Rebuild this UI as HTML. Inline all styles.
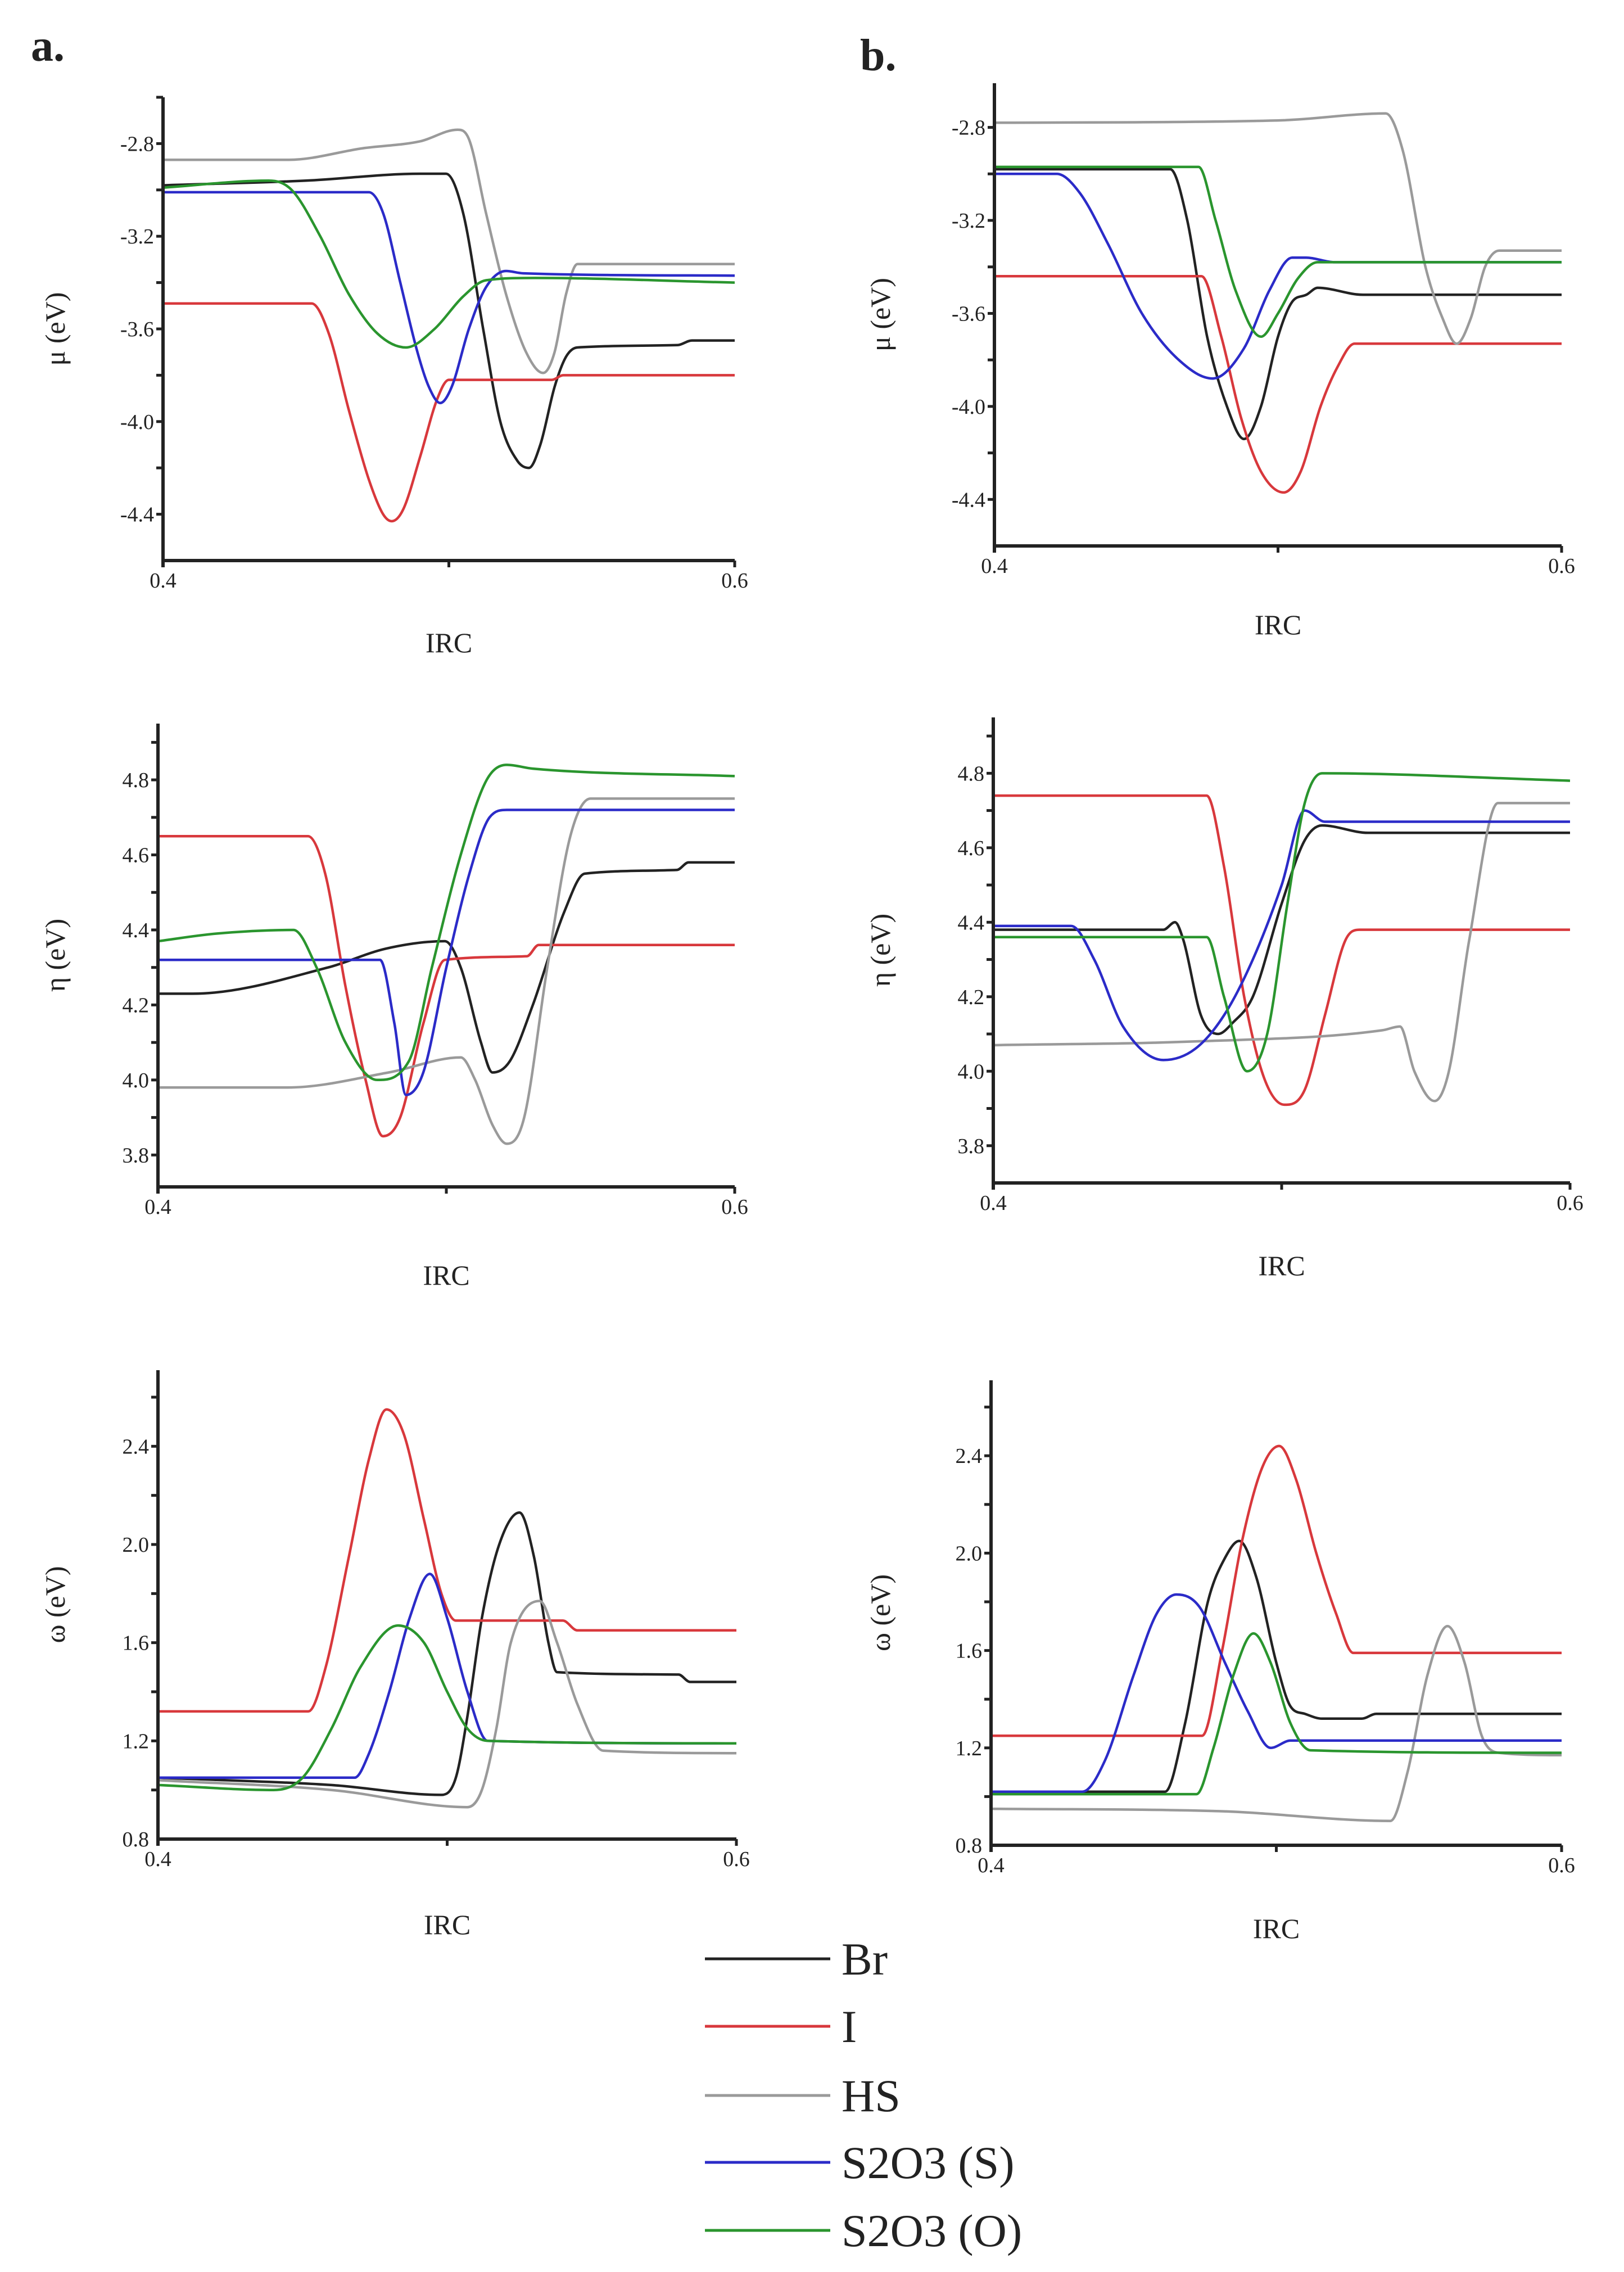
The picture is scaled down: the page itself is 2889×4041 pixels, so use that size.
<!DOCTYPE html>
<html><head><meta charset="utf-8"><style>
html,body{margin:0;padding:0;background:#fff;}
svg{display:block;}
text{font-family:"Liberation Serif",serif;fill:#222;}
</style></head><body>
<svg id="fig" width="2889" height="4041" viewBox="0 0 2889 4041" xmlns="http://www.w3.org/2000/svg">
<text x="55" y="108" font-size="80" font-weight="bold">a.</text>
<text x="1530" y="125" font-size="80" font-weight="bold">b.</text>
<g id="legend"></g>
</svg>
<script>
const seriesNames = ["Br","I","HS","S2O3 (S)","S2O3 (O)"];
const seriesColors = ["#222222","#d8383c","#9a9a9a","#2b2bc8","#2a952e"];

// Panel a, mu
const aMuX = [
 [0.4,0.45,0.49,0.499,0.505,0.512,0.518,0.524,0.528,0.532,0.537,0.541,0.545,0.58,0.585,0.6],
 [0.4,0.452,0.458,0.465,0.472,0.477,0.480,0.484,0.490,0.496,0.500,0.536,0.540,0.6],
 [0.4,0.444,0.47,0.49,0.503,0.507,0.513,0.52,0.527,0.533,0.537,0.541,0.545,0.6],
 [0.4,0.472,0.477,0.483,0.489,0.493,0.497,0.501,0.507,0.513,0.52,0.526,0.6],
 [0.4,0.437,0.445,0.455,0.465,0.475,0.485,0.495,0.505,0.513,0.53,0.6]];
const aMuY = [
 [-2.98,-2.96,-2.93,-2.93,-3.1,-3.6,-4.0,-4.17,-4.2,-4.1,-3.85,-3.72,-3.68,-3.67,-3.65,-3.65],
 [-3.49,-3.49,-3.62,-3.95,-4.25,-4.4,-4.43,-4.38,-4.15,-3.9,-3.82,-3.82,-3.80,-3.80],
 [-2.87,-2.87,-2.82,-2.79,-2.74,-2.78,-3.1,-3.45,-3.7,-3.79,-3.7,-3.45,-3.32,-3.32],
 [-3.01,-3.01,-3.1,-3.4,-3.7,-3.85,-3.92,-3.85,-3.6,-3.42,-3.35,-3.36,-3.37],
 [-2.99,-2.96,-3.0,-3.2,-3.45,-3.62,-3.68,-3.6,-3.46,-3.39,-3.38,-3.40]];
// Panel a, eta
const aEtaX = [
 [0.4,0.412,0.459,0.479,0.4995,0.505,0.512,0.516,0.522,0.53,0.541,0.548,0.58,0.584,0.6],
 [0.4,0.452,0.458,0.465,0.472,0.478,0.484,0.492,0.4995,0.528,0.532,0.6],
 [0.4,0.445,0.48,0.505,0.51,0.516,0.521,0.527,0.535,0.543,0.55,0.6],
 [0.4,0.477,0.482,0.486,0.492,0.5,0.508,0.515,0.521,0.6],
 [0.4,0.42,0.447,0.455,0.465,0.476,0.487,0.495,0.505,0.514,0.521,0.53,0.6]];
const aEtaY = [
 [4.23,4.23,4.3,4.35,4.37,4.3,4.1,4.02,4.05,4.2,4.45,4.55,4.56,4.58,4.58],
 [4.65,4.65,4.55,4.25,4.0,3.85,3.9,4.15,4.32,4.33,4.36,4.36],
 [3.98,3.98,4.02,4.06,4.0,3.88,3.83,3.9,4.3,4.65,4.75,4.75],
 [4.32,4.32,4.15,3.96,4.02,4.3,4.55,4.7,4.72,4.72],
 [4.37,4.39,4.4,4.3,4.1,4.0,4.05,4.3,4.6,4.8,4.84,4.83,4.81]];
// Panel a, omega
const aOmX = [
 [0.4,0.46,0.498,0.503,0.507,0.512,0.518,0.525,0.53,0.535,0.538,0.58,0.584,0.6],
 [0.4,0.452,0.458,0.466,0.473,0.479,0.485,0.492,0.498,0.503,0.54,0.545,0.6],
 [0.4,0.46,0.507,0.512,0.517,0.522,0.532,0.538,0.545,0.554,0.6],
 [0.4,0.468,0.473,0.48,0.487,0.494,0.5,0.507,0.514,0.6],
 [0.4,0.44,0.45,0.46,0.47,0.483,0.492,0.5,0.507,0.514,0.6]];
const aOmY = [
 [1.05,1.02,0.98,1.05,1.3,1.7,2.0,2.13,1.95,1.6,1.48,1.47,1.44,1.44],
 [1.32,1.32,1.5,1.95,2.35,2.55,2.45,2.1,1.8,1.69,1.69,1.65,1.65],
 [1.04,1.0,0.93,1.0,1.25,1.6,1.77,1.6,1.35,1.16,1.15],
 [1.05,1.05,1.15,1.4,1.7,1.88,1.7,1.4,1.2,1.19],
 [1.02,1.0,1.05,1.25,1.5,1.67,1.6,1.4,1.25,1.2,1.19]];
// Panel b, mu
const bMuX = [
 [0.4,0.462,0.468,0.475,0.482,0.488,0.494,0.5,0.505,0.51,0.514,0.53,0.6],
 [0.4,0.473,0.48,0.487,0.494,0.502,0.508,0.515,0.521,0.527,0.6],
 [0.4,0.5,0.538,0.544,0.552,0.558,0.563,0.568,0.573,0.578,0.6],
 [0.4,0.422,0.43,0.44,0.452,0.465,0.477,0.488,0.497,0.505,0.51,0.52,0.6],
 [0.4,0.472,0.478,0.485,0.494,0.5,0.507,0.514,0.6]];
const bMuY = [
 [-2.98,-2.98,-3.2,-3.7,-4.0,-4.14,-4.0,-3.7,-3.55,-3.52,-3.49,-3.52,-3.52],
 [-3.44,-3.44,-3.7,-4.05,-4.28,-4.37,-4.28,-4.0,-3.83,-3.73,-3.73],
 [-2.78,-2.77,-2.74,-2.9,-3.4,-3.62,-3.73,-3.62,-3.4,-3.33,-3.33],
 [-3.0,-3.0,-3.08,-3.3,-3.6,-3.8,-3.88,-3.75,-3.5,-3.36,-3.36,-3.38,-3.38],
 [-2.97,-2.97,-3.2,-3.5,-3.7,-3.6,-3.45,-3.38,-3.38]];
// Panel b, eta
const bEtaX = [
 [0.4,0.459,0.463,0.466,0.472,0.478,0.483,0.49,0.5,0.508,0.514,0.53,0.6],
 [0.4,0.474,0.48,0.487,0.494,0.501,0.508,0.515,0.522,0.527,0.6],
 [0.4,0.47,0.535,0.541,0.546,0.553,0.558,0.565,0.575,0.6],
 [0.4,0.427,0.435,0.445,0.459,0.47,0.48,0.49,0.5,0.508,0.515,0.6],
 [0.4,0.474,0.48,0.488,0.495,0.502,0.508,0.514,0.6]];
const bEtaY = [
 [4.38,4.38,4.4,4.35,4.15,4.1,4.13,4.2,4.45,4.62,4.66,4.64,4.64],
 [4.74,4.74,4.55,4.2,3.98,3.91,3.95,4.15,4.35,4.38,4.38],
 [4.07,4.08,4.11,4.12,4.0,3.92,4.0,4.35,4.72,4.72],
 [4.39,4.39,4.3,4.12,4.03,4.06,4.15,4.3,4.5,4.7,4.67,4.67],
 [4.36,4.36,4.2,4.0,4.1,4.45,4.72,4.8,4.78]];
// Panel b, omega
const bOmX = [
 [0.4,0.461,0.468,0.476,0.482,0.487,0.493,0.5,0.505,0.51,0.516,0.53,0.535,0.6],
 [0.4,0.474,0.481,0.488,0.495,0.501,0.507,0.514,0.521,0.527,0.6],
 [0.4,0.48,0.54,0.546,0.553,0.56,0.566,0.572,0.578,0.6],
 [0.4,0.432,0.44,0.45,0.458,0.465,0.473,0.482,0.49,0.498,0.505,0.6],
 [0.4,0.472,0.478,0.485,0.492,0.498,0.505,0.512,0.6]];
const bOmY = [
 [1.02,1.02,1.3,1.8,1.98,2.05,1.9,1.55,1.37,1.34,1.32,1.32,1.34,1.34],
 [1.25,1.25,1.6,2.05,2.35,2.44,2.3,2.0,1.75,1.59,1.59],
 [0.95,0.94,0.9,1.1,1.5,1.7,1.55,1.25,1.18,1.17],
 [1.02,1.02,1.15,1.5,1.75,1.83,1.78,1.55,1.35,1.2,1.23,1.23],
 [1.01,1.01,1.2,1.5,1.67,1.55,1.3,1.19,1.18]];

const muTicks = [-4.4,-4.0,-3.6,-3.2,-2.8];
const etaTicks = [3.8,4.0,4.2,4.4,4.6,4.8];
const omTicks = [0.8,1.2,1.6,2.0,2.4];
const xTicks = [0.4,0.6];

const panels = [
 {id:"a-mu",x0:290,x1:1307,yb:997,yt:173,ymin:-4.6,ymax:-2.6,ticks:muTicks,minor:0.2,lab:"μ (eV)",lx:115,irc:1160,X:aMuX,Y:aMuY},
 {id:"a-eta",x0:281,x1:1307,yb:2111,yt:1287,ymin:3.715,ymax:4.95,ticks:etaTicks,minor:0.1,lab:"η (eV)",lx:115,irc:2285,X:aEtaX,Y:aEtaY},
 {id:"a-omega",x0:281,x1:1310,yb:3271,yt:2437,ymin:0.8,ymax:2.71,ticks:omTicks,minor:0.2,lab:"ω (eV)",lx:115,irc:3440,X:aOmX,Y:aOmY},
 {id:"b-mu",x0:1769,x1:2778,yb:971,yt:148,ymin:-4.6,ymax:-2.61,ticks:muTicks,minor:0.2,lab:"μ (eV)",lx:1583,irc:1128,X:bMuX,Y:bMuY},
 {id:"b-eta",x0:1767,x1:2793,yb:2104,yt:1276,ymin:3.70,ymax:4.95,ticks:etaTicks,minor:0.1,lab:"η (eV)",lx:1583,irc:2268,X:bEtaX,Y:bEtaY},
 {id:"b-omega",x0:1763,x1:2778,yb:3282,yt:2455,ymin:0.8,ymax:2.71,ticks:omTicks,minor:0.2,lab:"ω (eV)",lx:1583,irc:3447,X:bOmX,Y:bOmY}
];

const NS="http://www.w3.org/2000/svg";
const svg=document.getElementById("fig");
function mk(tag,attrs,parent){const e=document.createElementNS(NS,tag);for(const k in attrs)e.setAttribute(k,attrs[k]);(parent||svg).appendChild(e);return e;}

function monotonePath(px,py){
 const n=px.length; if(n<2) return "";
 const d=[],m=new Array(n);
 for(let i=0;i<n-1;i++) d.push((py[i+1]-py[i])/(px[i+1]-px[i]));
 m[0]=d[0]; m[n-1]=d[n-2];
 for(let i=1;i<n-1;i++){ m[i]=(d[i-1]*d[i]<=0)?0:(d[i-1]+d[i])/2; }
 for(let i=0;i<n-1;i++){ if(d[i]===0){m[i]=0;m[i+1]=0;continue;}
  const a=m[i]/d[i],b=m[i+1]/d[i],s=a*a+b*b; if(s>9){const t=3/Math.sqrt(s);m[i]=t*a*d[i];m[i+1]=t*b*d[i];}}
 let p="M"+px[0].toFixed(1)+","+py[0].toFixed(1);
 for(let i=0;i<n-1;i++){const h=(px[i+1]-px[i])/3;
  p+=" C"+(px[i]+h).toFixed(1)+","+(py[i]+m[i]*h).toFixed(1)+" "+(px[i+1]-h).toFixed(1)+","+(py[i+1]-m[i+1]*h).toFixed(1)+" "+px[i+1].toFixed(1)+","+py[i+1].toFixed(1);}
 return p;
}

panels.forEach(P=>{
 const g=mk("g",{});
 
 
 const xs=v=>P.x0+(v-0.4)/0.2*(P.x1-P.x0);
 const ys=v=>P.yb-(v-P.ymin)/(P.ymax-P.ymin)*(P.yb-P.yt);
 // series
 P.X.forEach((xa,si)=>{
  const path=mk("path",{d:monotonePath(xa.map(xs),P.Y[si].map(ys)),fill:"none",stroke:seriesColors[si],"stroke-width":4.5,"stroke-linejoin":"round"},g);
  
  
 });
 // axes
 const ya=mk("line",{x1:P.x0,y1:P.yt,x2:P.x0,y2:P.yb+12,stroke:"#222","stroke-width":6},g);
 
 
 const xa=mk("line",{x1:P.x0-3,y1:P.yb,x2:P.x1,y2:P.yb,stroke:"#222","stroke-width":6},g);
 
 
 // minor y ticks
 for(let v=Math.ceil(P.ymin/P.minor)*P.minor; v<=P.ymax+1e-9; v+=P.minor){
  const y=ys(v); if(y>P.yb-3) continue;
  const t=mk("line",{x1:P.x0-12,y1:y,x2:P.x0,y2:y,stroke:"#222","stroke-width":5},g);
  
  
 }
 P.ticks.forEach(v=>{
  const t=mk("text",{x:P.x0-16,y:ys(v)+13,"font-size":38,"text-anchor":"end"},g);
  t.textContent=v.toFixed(1);
  
  
 });
 // x ticks
 [0.4,0.5,0.6].forEach(v=>{
  const t=mk("line",{x1:xs(v),y1:P.yb,x2:xs(v),y2:P.yb+12,stroke:"#222","stroke-width":5},g);
  
  
 });
 xTicks.forEach(v=>{
  const t=mk("text",{x:xs(v),y:P.yb+48,"font-size":38,"text-anchor":"middle"},g);
  t.textContent=v.toFixed(1);
  
  
 });
 const xt=mk("text",{x:(P.x0+P.x1)/2,y:P.irc,"font-size":50,"text-anchor":"middle"},g);
 xt.textContent="IRC";
 
 
 const cy=(P.yt+P.yb)/2;
 const yt=mk("text",{x:P.lx,y:cy,"font-size":50,"text-anchor":"middle",transform:"rotate(-90 "+P.lx+" "+cy+")"},g);
 yt.textContent=P.lab;
 
 
});

// legend
const lg=document.getElementById("legend");
const legendY=[3484,3604,3727,3846,3967];
seriesNames.forEach((n,i)=>{
 const l=mk("line",{x1:1254,y1:legendY[i],x2:1477,y2:legendY[i],stroke:seriesColors[i],"stroke-width":5},lg);
 
 
 const t=mk("text",{x:1497,y:legendY[i]+28,"font-size":82},lg);
 t.textContent=n;
 
 
});
</script>
</body></html>
